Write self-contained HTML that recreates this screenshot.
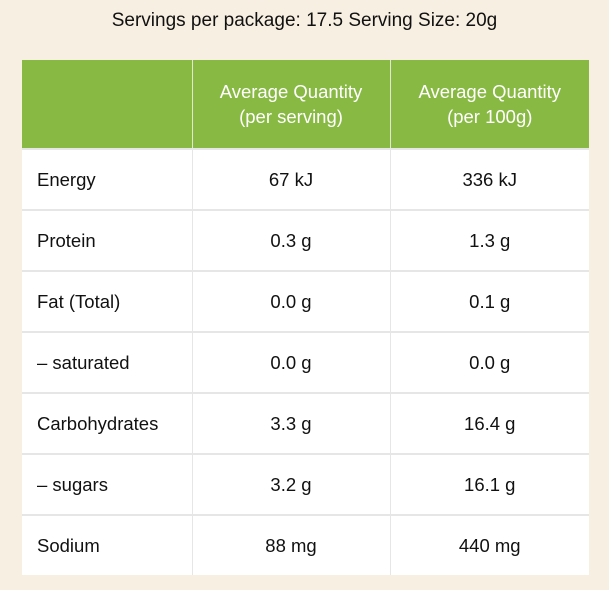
<!DOCTYPE html>
<html><head><meta charset="utf-8"><style>
body{margin:0;width:609px;height:590px;background:#f7efe1;font-family:"Liberation Sans",sans-serif;position:relative;overflow:hidden}
#title{position:absolute;top:10px;left:0;width:609px;text-align:center;font-size:19px;color:#111}
table{position:absolute;left:22px;top:60px;width:567px;border-collapse:collapse;font-size:18.5px;color:#111}
th{background:#87b943;color:#fff;font-weight:normal;height:88px;border-right:1px solid #dfe8d0;line-height:25px;padding:0}
th:last-child{border-right:none}
td{background:#fff;height:59px;border-top:2px solid #e6e6e6;border-right:1px solid #e6e6e6;text-align:center;padding:0}
td:first-child{text-align:left;padding-left:15px}
td:last-child{border-right:none}
</style></head><body>
<div id="title">Servings per package: 17.5 Serving Size: 20g</div>
<table>
<colgroup><col style="width:170px"><col style="width:198px"><col style="width:199px"></colgroup>
<tr><th></th><th>Average Quantity<br>(per serving)</th><th>Average Quantity<br>(per 100g)</th></tr>
<tr><td>Energy</td><td>67 kJ</td><td>336 kJ</td></tr>
<tr><td>Protein</td><td>0.3 g</td><td>1.3 g</td></tr>
<tr><td>Fat (Total)</td><td>0.0 g</td><td>0.1 g</td></tr>
<tr><td>– saturated</td><td>0.0 g</td><td>0.0 g</td></tr>
<tr><td>Carbohydrates</td><td>3.3 g</td><td>16.4 g</td></tr>
<tr><td>– sugars</td><td>3.2 g</td><td>16.1 g</td></tr>
<tr><td>Sodium</td><td>88 mg</td><td>440 mg</td></tr>
</table>
</body></html>
